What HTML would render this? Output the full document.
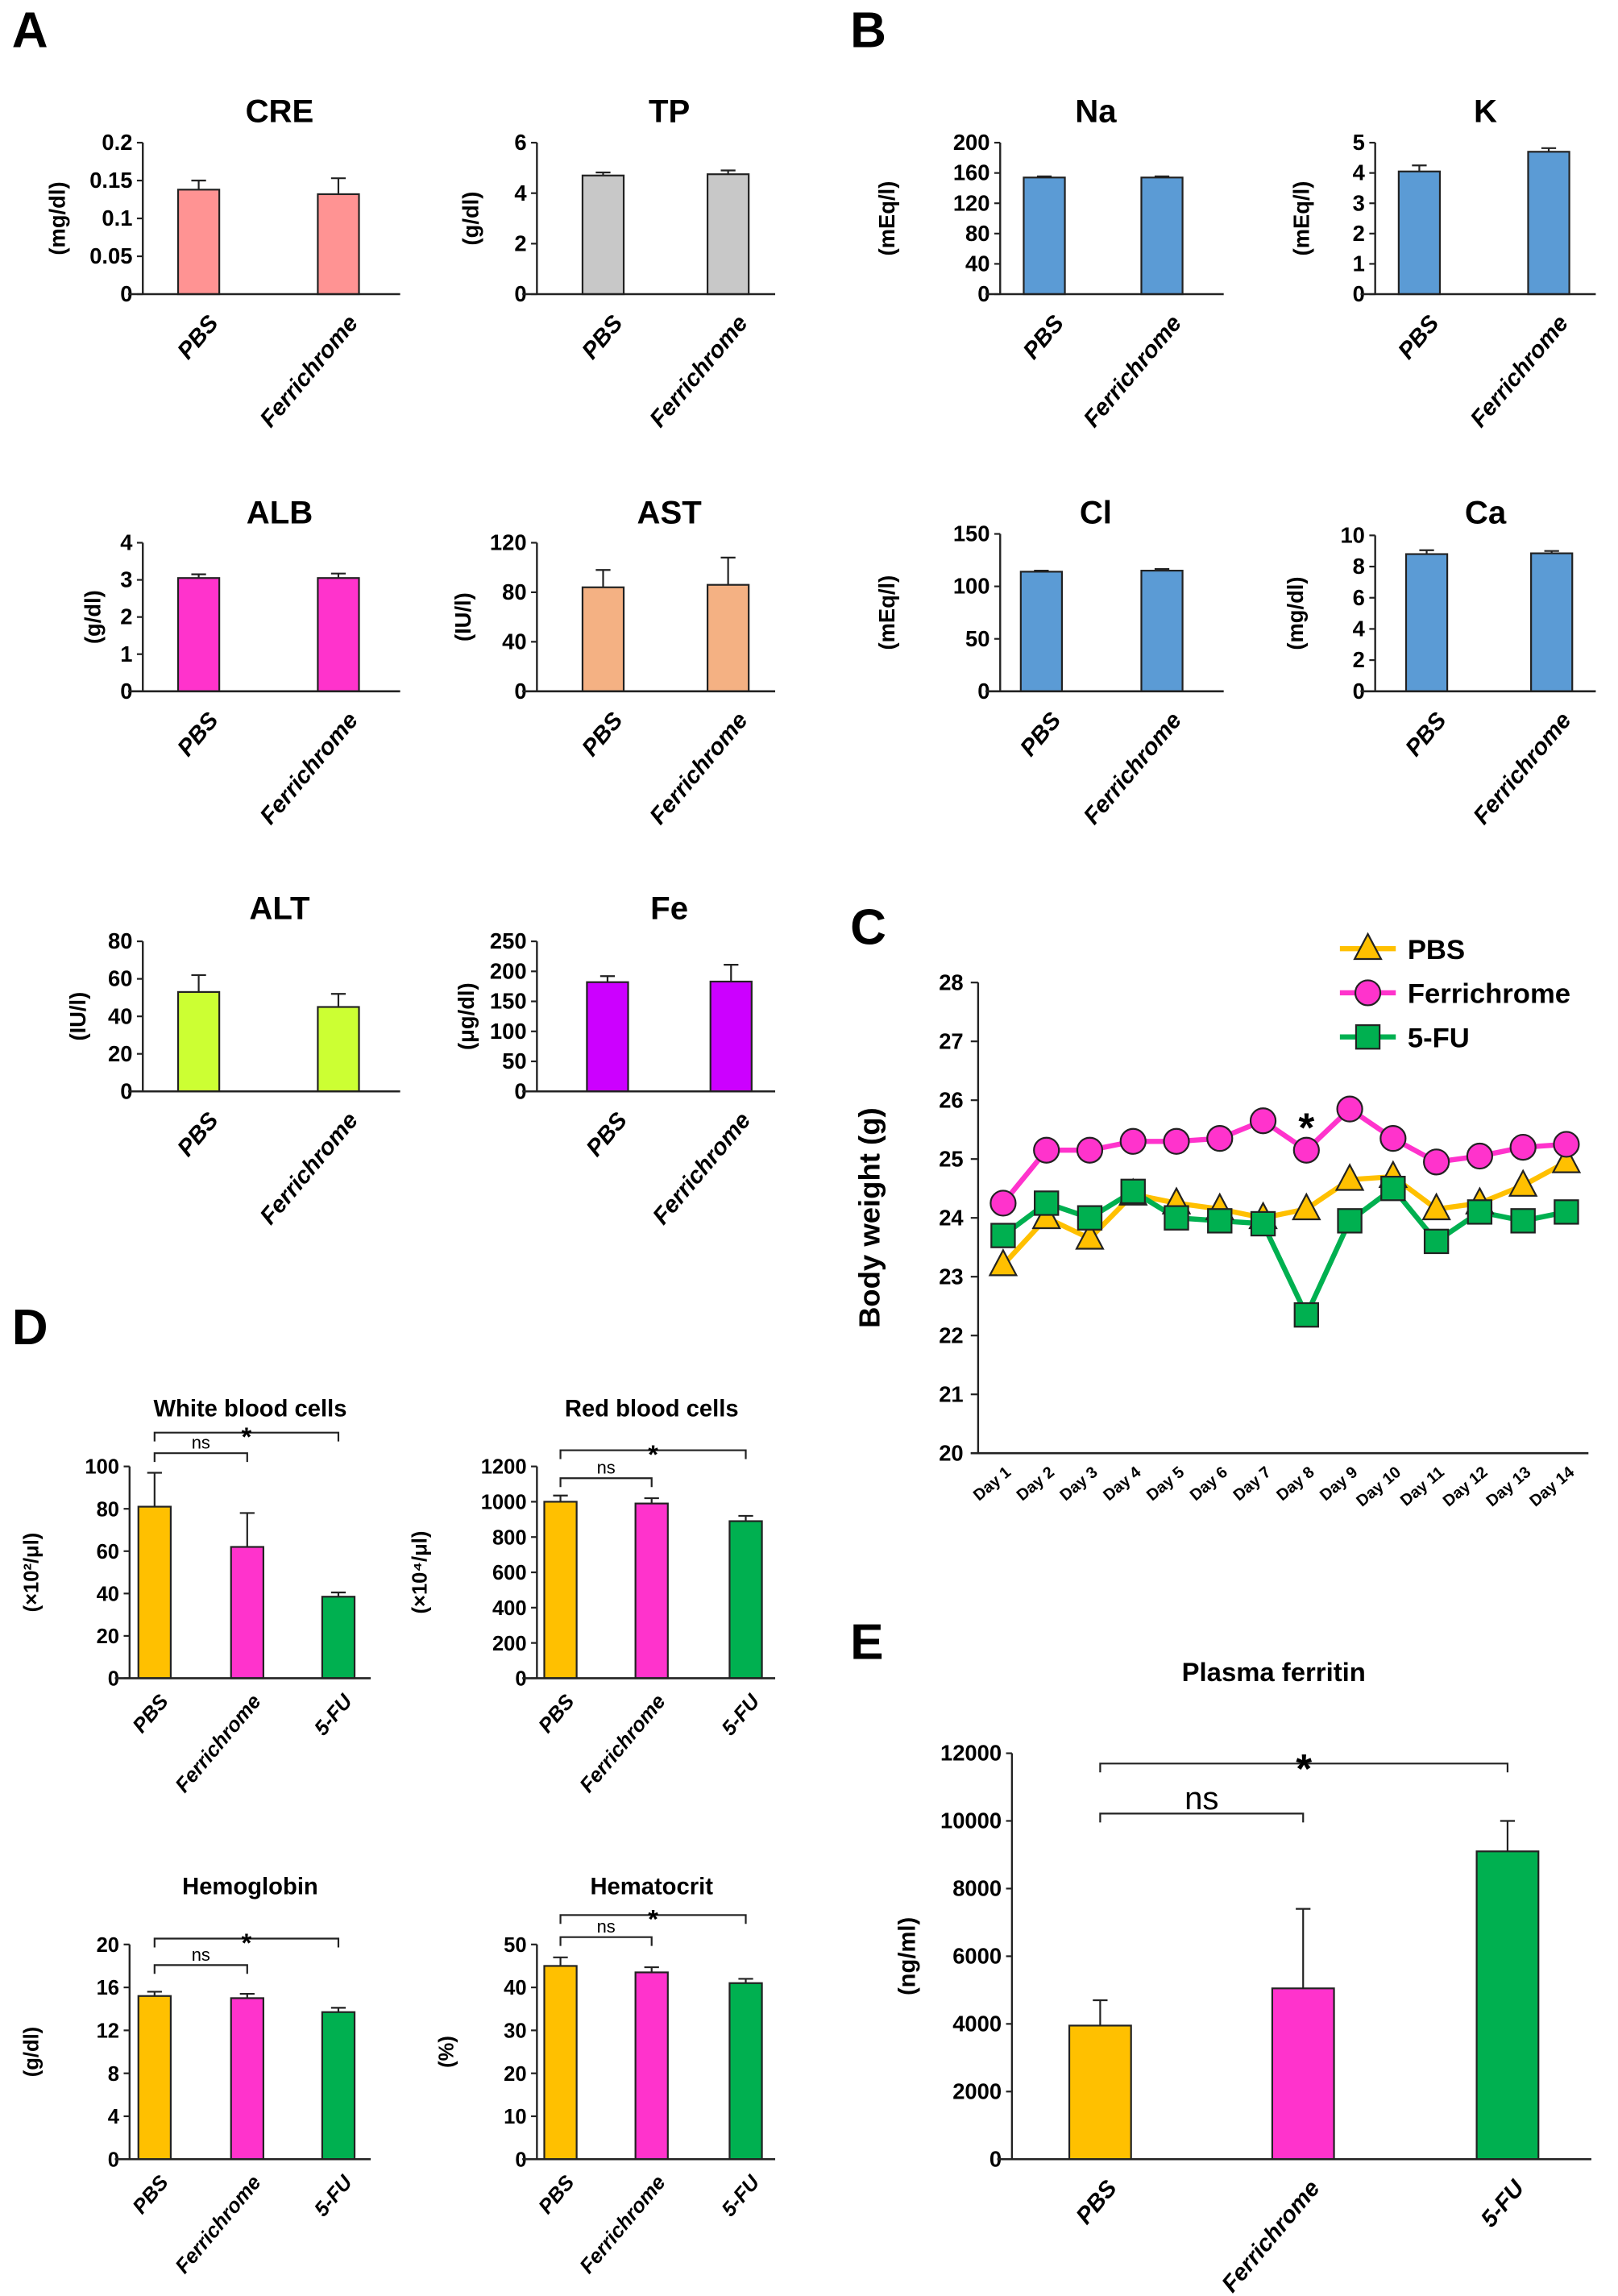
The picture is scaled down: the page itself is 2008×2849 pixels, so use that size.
<!DOCTYPE html>
<html><head><meta charset="utf-8"><style>
html,body{margin:0;padding:0;background:#fff;}
svg{display:block;font-family:"Liberation Sans",sans-serif;}
</style></head><body>
<svg id="fig" width="2008" height="2849" viewBox="0 0 1100 1561" xmlns="http://www.w3.org/2000/svg">
<g font-weight="bold" font-size="34">
<text x="8" y="32">A</text>
<text x="578" y="32">B</text>
<text x="578" y="642">C</text>
<text x="8" y="914">D</text>
<text x="578" y="1128">E</text>
</g>
</svg>
<script>
const twoCats=["PBS","Ferrichrome"];
const threeCats=["PBS","Ferrichrome","5-FU"];
const creVals=[0.138,0.132]; const creErr=[0.012,0.021]; const creTicks=[0,0.05,0.1,0.15,0.2];
const tpVals=[4.7,4.75]; const tpErr=[0.12,0.15]; const tpTicks=[0,2,4,6];
const albVals=[3.05,3.05]; const albErr=[0.1,0.12]; const albTicks=[0,1,2,3,4];
const astVals=[84,86]; const astErr=[14,22]; const astTicks=[0,40,80,120];
const altVals=[53,45]; const altErr=[9,7]; const altTicks=[0,20,40,60,80];
const feVals=[182,183]; const feErr=[10,28]; const feTicks=[0,50,100,150,200,250];
const naVals=[154,154]; const naErr=[1.5,1.5]; const naTicks=[0,40,80,120,160,200];
const kVals=[4.05,4.7]; const kErr=[0.2,0.12]; const kTicks=[0,1,2,3,4,5];
const clVals=[114,115]; const clErr=[1,1.5]; const clTicks=[0,50,100,150];
const caVals=[8.8,8.85]; const caErr=[0.25,0.15]; const caTicks=[0,2,4,6,8,10];
const wbcVals=[81,62,38.5]; const wbcErr=[16,16,2]; const wbcTicks=[0,20,40,60,80,100];
const rbcVals=[1000,990,890]; const rbcErr=[35,30,30]; const rbcTicks=[0,200,400,600,800,1000,1200];
const hbVals=[15.2,15.0,13.7]; const hbErr=[0.4,0.4,0.4]; const hbTicks=[0,4,8,12,16,20];
const htVals=[45,43.5,41]; const htErr=[2,1.2,1]; const htTicks=[0,10,20,30,40,50];
const ferVals=[3950,5050,9100]; const ferErr=[750,2350,900]; const ferTicks=[0,2000,4000,6000,8000,10000,12000];
const days=["Day 1","Day 2","Day 3","Day 4","Day 5","Day 6","Day 7","Day 8","Day 9","Day 10","Day 11","Day 12","Day 13","Day 14"];
const pbsW=[23.2,24.0,23.65,24.4,24.25,24.15,24.0,24.15,24.65,24.7,24.15,24.25,24.55,24.95];
const ferW=[24.25,25.15,25.15,25.3,25.3,25.35,25.65,25.15,25.85,25.35,24.95,25.05,25.2,25.25];
const fuW=[23.7,24.25,24.0,24.45,24.0,23.95,23.9,22.35,23.95,24.5,23.6,24.1,23.95,24.1];
const bwTicks=[20,21,22,23,24,25,26,27,28];

const NS="http://www.w3.org/2000/svg";
const svg=document.getElementById('fig');
function mk(tag,attrs,parent,txt){const e=document.createElementNS(NS,tag);for(const k in attrs)e.setAttribute(k,attrs[k]);if(txt!==undefined)e.textContent=txt;(parent||svg).appendChild(e);return e;}

function barChart(name,cats,vals,errs,ticks,colors,L){
  const g=mk('g',{});
  
  
  const max=ticks[ticks.length-1];
  const y=v=>L.bot-(v/max)*(L.bot-L.top);
  const t=mk('text',{x:L.tx,y:L.ty,'text-anchor':'middle','font-weight':'bold','font-size':L.tfs},g,L.title);
  
  
  const yt=mk('text',{transform:`translate(${L.ytx},${(L.top+L.bot)/2}) rotate(-90)`,'text-anchor':'middle','font-weight':'bold','font-size':L.yfs},g,L.ytitle);
  
  
  mk('line',{x1:L.ax,y1:L.top,x2:L.ax,y2:L.bot,stroke:'#222','stroke-width':1.3},g);
  ticks.forEach(tv=>{
    mk('line',{x1:L.ax-4,y1:y(tv),x2:L.ax,y2:y(tv),stroke:'#222','stroke-width':1.2},g);
    const tl=mk('text',{x:L.ax-7,y:y(tv)+5,'text-anchor':'end','font-weight':'bold','font-size':L.kfs},g,String(tv));
    
    
  });
  vals.forEach((v,i)=>{
    const cx=L.bars[i];
    const r=mk('rect',{x:cx-L.bw/2,y:y(v),width:L.bw,height:L.bot-y(v),fill:colors[i],stroke:'#222','stroke-width':1.2},g);
    
    
    const et=y(v+errs[i]);
    mk('line',{x1:cx,y1:y(v),x2:cx,y2:et,stroke:'#222','stroke-width':1.2},g);
    mk('line',{x1:cx-5,y1:et,x2:cx+5,y2:et,stroke:'#222','stroke-width':1.2},g);
    const cl=mk('text',{transform:`translate(${cx+L.lox},${L.bot+L.loy}) rotate(-50)`,'text-anchor':'end','font-weight':'bold','font-style':'italic','font-size':L.cfs},g,cats[i]);
    
    
  });
  mk('line',{x1:L.ax-10,y1:L.bot,x2:L.xend,y2:L.bot,stroke:'#222','stroke-width':1.4},g);
  (L.brackets||[]).forEach(b=>{
    const x1=L.bars[b.a],x2=L.bars[b.b];
    mk('path',{d:`M${x1},${b.y+6}V${b.y}H${x2}V${b.y+6}`,fill:'none',stroke:'#222','stroke-width':1.2},g);
    const bl=mk('text',{x:(x1+x2)/2,y:b.y-3+(b.lab==='*'?b.sy||0:0),'text-anchor':'middle','font-weight':b.lab==='*'?'bold':'normal','font-size':b.lab==='*'?L.sfs:L.nfs},g,b.lab);
    
    
  });
}
const A={tfs:22,yfs:15,kfs:15,cfs:16,bw:28,lox:14,loy:20};
function lay(o){return Object.assign({},A,o);}
const row=[{top:97,bot:200,ty:83},{top:369,bot:470,ty:356},{top:640,bot:742,ty:625}];
barChart('cre',twoCats,creVals,creErr,creTicks,['#ff9393','#ff9393'],lay({...row[0],ax:97,xend:272,bars:[135,230],tx:190,title:'CRE',ytx:44,ytitle:'(mg/dl)'}));
barChart('tp',twoCats,tpVals,tpErr,tpTicks,['#c8c8c8','#c8c8c8'],lay({...row[0],ax:365,xend:527,bars:[410,495],tx:455,title:'TP',ytx:325,ytitle:'(g/dl)'}));
barChart('alb',twoCats,albVals,albErr,albTicks,['#ff33cc','#ff33cc'],lay({...row[1],ax:97,xend:272,bars:[135,230],tx:190,title:'ALB',ytx:68,ytitle:'(g/dl)'}));
barChart('ast',twoCats,astVals,astErr,astTicks,['#f4b183','#f4b183'],lay({...row[1],ax:365,xend:527,bars:[410,495],tx:455,title:'AST',ytx:320,ytitle:'(IU/l)'}));
barChart('alt',twoCats,altVals,altErr,altTicks,['#ccff33','#ccff33'],lay({...row[2],ax:97,xend:272,bars:[135,230],tx:190,title:'ALT',ytx:58,ytitle:'(IU/l)'}));
barChart('fe',twoCats,feVals,feErr,feTicks,['#cc00ff','#cc00ff'],lay({...row[2],ax:365,xend:527,bars:[413,497],tx:455,title:'Fe',ytx:322,ytitle:'(μg/dl)'}));
const bl='#5b9bd5';
barChart('na',twoCats,naVals,naErr,naTicks,[bl,bl],lay({...row[0],ax:680,xend:832,bars:[710,790],tx:745,title:'Na',ytx:608,ytitle:'(mEq/l)'}));
barChart('k',twoCats,kVals,kErr,kTicks,[bl,bl],lay({...row[0],ax:935,xend:1085,bars:[965,1053],tx:1010,title:'K',ytx:890,ytitle:'(mEq/l)'}));
barChart('cl',twoCats,clVals,clErr,clTicks,[bl,bl],lay({...row[1],top:363,ax:680,xend:832,bars:[708,790],tx:745,title:'Cl',ytx:608,ytitle:'(mEq/l)'}));
barChart('ca',twoCats,caVals,caErr,caTicks,[bl,bl],lay({...row[1],top:364,ax:935,xend:1085,bars:[970,1055],tx:1010,title:'Ca',ytx:886,ytitle:'(mg/dl)'}));
const dc=['#ffc000','#ff33cc','#00b050'];
const D={tfs:16,yfs:14,kfs:14,cfs:14,bw:22,lox:10,loy:16,nfs:12,sfs:18};
barChart('wbc',threeCats,wbcVals,wbcErr,wbcTicks,dc,Object.assign({},D,{top:997,bot:1141,ax:88,xend:252,bars:[105,168,230],tx:170,ty:963,title:'White blood cells',ytx:26,ytitle:'(×10²/μl)',brackets:[{a:0,b:1,y:988,lab:'ns'},{a:0,b:2,y:974,lab:'*',sy:12}]}));
barChart('rbc',threeCats,rbcVals,rbcErr,rbcTicks,dc,Object.assign({},D,{top:997,bot:1141,ax:365,xend:527,bars:[381,443,507],tx:443,ty:963,title:'Red blood cells',ytx:290,ytitle:'(×10⁴/μl)',brackets:[{a:0,b:1,y:1005,lab:'ns'},{a:0,b:2,y:986,lab:'*',sy:12}]}));
barChart('hb',threeCats,hbVals,hbErr,hbTicks,dc,Object.assign({},D,{top:1322,bot:1468,ax:88,xend:252,bars:[105,168,230],tx:170,ty:1288,title:'Hemoglobin',ytx:26,ytitle:'(g/dl)',brackets:[{a:0,b:1,y:1336,lab:'ns'},{a:0,b:2,y:1318,lab:'*',sy:12}]}));
barChart('ht',threeCats,htVals,htErr,htTicks,dc,Object.assign({},D,{top:1322,bot:1468,ax:365,xend:527,bars:[381,443,507],tx:443,ty:1288,title:'Hematocrit',ytx:308,ytitle:'(%)',brackets:[{a:0,b:1,y:1317,lab:'ns'},{a:0,b:2,y:1302,lab:'*',sy:12}]}));
barChart('ferritin',threeCats,ferVals,ferErr,ferTicks,dc,{tfs:18,yfs:16,kfs:15,cfs:16,bw:42,lox:12,loy:20,nfs:22,sfs:28,top:1192,bot:1468,ax:688,xend:1082,bars:[748,886,1025],tx:866,ty:1143,title:'Plasma ferritin',ytx:622,ytitle:'(ng/ml)',brackets:[{a:0,b:1,y:1233,lab:'ns'},{a:0,b:2,y:1199,lab:'*',sy:16}]});

// Panel C line chart
(function(){
  const g=mk('g',{});
  
  
  const ax=665,top=668,bot=988,xend=1080,x0=682,x1=1065;
  const y=v=>bot-(v-20)/8*(bot-top);
  const x=i=>x0+i*(x1-x0)/(days.length-1);
  mk('line',{x1:ax,y1:top,x2:ax,y2:bot,stroke:'#222','stroke-width':1.3},g);
  mk('line',{x1:ax-5,y1:bot,x2:xend,y2:bot,stroke:'#222','stroke-width':1.4},g);
  bwTicks.forEach(t=>{
    mk('line',{x1:ax-5,y1:y(t),x2:ax,y2:y(t),stroke:'#222','stroke-width':1.2},g);
    const tl=mk('text',{x:ax-10,y:y(t)+5,'text-anchor':'end','font-weight':'bold','font-size':15},g,String(t));
    
    
  });
  days.forEach((d,i)=>{
    const tl=mk('text',{transform:`translate(${x(i)+6},${bot+14}) rotate(-40)`,'text-anchor':'end','font-weight':'bold','font-size':11},g,d);
    
    
  });
  const yt=mk('text',{transform:`translate(598,${(top+bot)/2}) rotate(-90)`,'text-anchor':'middle','font-weight':'bold','font-size':20},g,'Body weight (g)');
  
  
  function marker(type,cx,cy,fill,p){
    if(type==='tri') return mk('path',{d:`M${cx},${cy-10}L${cx+9},${cy+7}L${cx-9},${cy+7}Z`,fill,stroke:'#222','stroke-width':1.2},p);
    if(type==='circ') return mk('circle',{cx,cy,r:8.5,fill,stroke:'#222','stroke-width':1.2},p);
    return mk('rect',{x:cx-8,y:cy-8,width:16,height:16,fill,stroke:'#222','stroke-width':1.2},p);
  }
  const series=[['pbs',pbsW,'#ffc000','tri'],['ferrichrome',ferW,'#ff33cc','circ'],['5fu',fuW,'#00b050','sq']];
  series.forEach(([n,d,c,m])=>{
    const l=mk('polyline',{points:d.map((v,i)=>x(i)+','+y(v)).join(' '),fill:'none',stroke:c,'stroke-width':3.5},g);
    
    
  });
  series.forEach(([n,d,c,m])=>{
    d.forEach((v,i)=>{const e=marker(m,x(i),y(v),c,g);
      
      });
  });
  const st=mk('text',{x:x(7),y:y(25.55)+10,'text-anchor':'middle','font-weight':'bold','font-size':28},g,'*');
  
  
  const labs=['PBS','Ferrichrome','5-FU'];
  series.forEach(([n,d,c,m],k)=>{
    const ly=645+k*30;
    const lg=mk('g',{},g);
    
    
    mk('line',{x1:911,y1:ly,x2:949,y2:ly,stroke:c,'stroke-width':3.5},lg);
    marker(m,930,ly,c,lg);
    mk('text',{x:957,y:ly+7,'font-weight':'bold','font-size':19},lg,labs[k]);
  });
})();
</script>
</body></html>
